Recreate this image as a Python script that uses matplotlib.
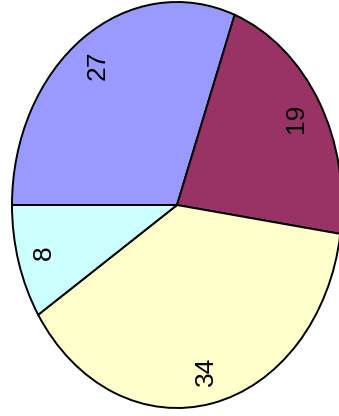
import matplotlib
matplotlib.use('Agg')
import matplotlib.pyplot as plt

# slice values, in drawing order (clockwise from the left)
values = [27, 19, 34, 8]
labels = [str(v) for v in values]
colors = ['#9999FF', '#993366', '#FFFFCC', '#CCFFFF']

fig = plt.figure(figsize=(3.39, 4.16), dpi=100)
ax = fig.add_axes([0, 0, 1, 1])

ax.pie(values, labels=labels, colors=colors, startangle=180,
       counterclock=False, labeldistance=0.84,
       wedgeprops=dict(edgecolor='black', linewidth=1.4),
       textprops=dict(rotation=90, ha='center', va='center',
                      fontsize=19, family='Liberation Sans'))

# stretch the pie into an ellipse like the reference
ax.set_aspect('auto')
ax.set_xlim(-1.0727, 0.9818)
ax.set_ylim(-1.0394, 1.0099)
ax.axis('off')

fig.savefig('out.png', dpi=100)
